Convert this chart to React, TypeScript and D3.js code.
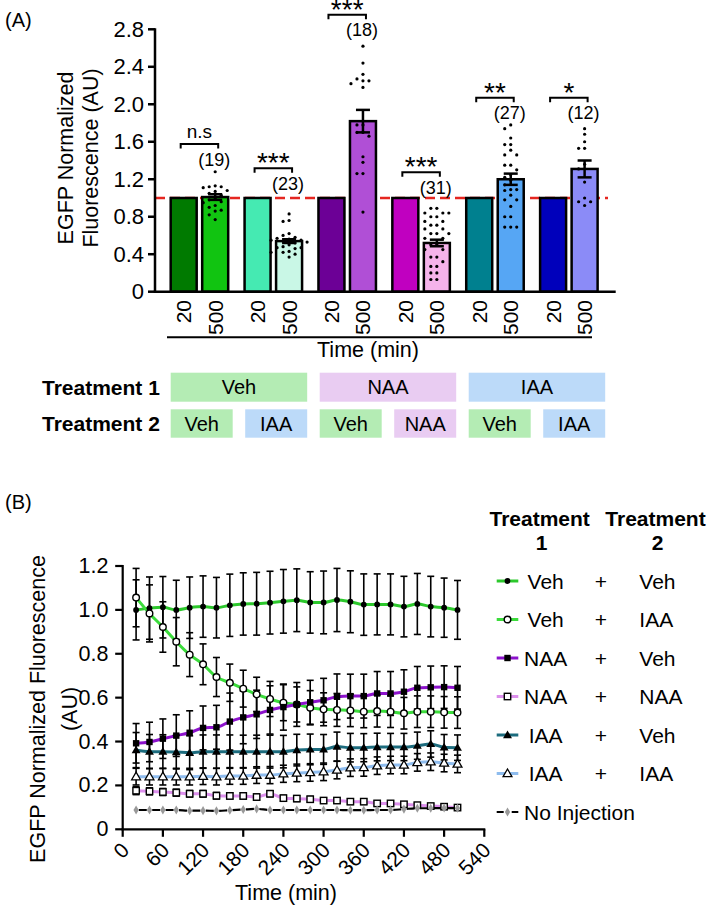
import React from "react";
import * as d3 from "d3";

const W = 710;
const H = 907;
const FONT = "'Liberation Sans', Arial, Helvetica, sans-serif";

// ---------------- Panel A data ----------------
const groupIds = ["VehVeh", "VehIAA", "NAAVeh", "NAANAA", "IAAVeh", "IAAIAA"];
const timeLabelsA = ["20", "500"];
const mean20 = [1, 1, 1, 1, 1, 1];
const mean500 = [1.01, 0.54, 1.82, 0.52, 1.2, 1.31];
const sem500 = [0.03, 0.02, 0.12, 0.035, 0.06, 0.09];
const dotsVehVeh = [1.28, 1.13, 1.12, 1.12, 1.11, 1.08, 1.07, 1.05, 1.03, 1.0, 0.98, 0.96, 0.95, 0.92, 0.9, 0.87, 0.86, 0.82, 0.77];
const dotsVehIAA = [0.83, 0.76, 0.75, 0.62, 0.6, 0.58, 0.57, 0.56, 0.55, 0.55, 0.54, 0.53, 0.52, 0.5, 0.48, 0.47, 0.47, 0.46, 0.43, 0.42, 0.42, 0.4, 0.37];
const dotsNAAVeh = [2.62, 2.44, 2.32, 2.27, 2.25, 2.25, 2.22, 2.18, 1.78, 1.78, 1.7, 1.7, 1.66, 1.44, 1.38, 1.26, 1.26, 0.85];
const dotsNAANAA = [0.89, 0.89, 0.84, 0.84, 0.84, 0.8, 0.8, 0.75, 0.75, 0.71, 0.71, 0.67, 0.67, 0.62, 0.62, 0.62, 0.57, 0.57, 0.5, 0.5, 0.45, 0.45, 0.37, 0.37, 0.32, 0.27, 0.27, 0.2, 0.2, 0.13, 0.13];
const dotsIAAVeh = [1.78, 1.74, 1.64, 1.57, 1.57, 1.51, 1.46, 1.46, 1.35, 1.35, 1.3, 1.25, 1.22, 1.19, 1.14, 1.09, 1.09, 1.08, 1.03, 0.98, 0.98, 0.91, 0.8, 0.8, 0.69, 0.69, 0.69];
const dotsIAAIAA = [1.74, 1.68, 1.6, 1.53, 1.53, 1.36, 1.31, 1.17, 1.0, 0.96, 0.96, 0.92];
const nLabels = ["(19)", "(23)", "(18)", "(31)", "(27)", "(12)"];
const sigLabels = ["n.s", "***", "***", "***", "**", "*"];
const sigLevels = [1.576, 1.317, 2.956, 1.274, 2.07, 2.07];
const yTicksA = [0, 0.4, 0.8, 1.2, 1.6, 2.0, 2.4, 2.8];
const treatment1 = ["Veh", "NAA", "IAA"];
const treatment2 = ["Veh", "IAA", "Veh", "NAA", "Veh", "IAA"];

const dotsA = [dotsVehVeh, dotsVehIAA, dotsNAAVeh, dotsNAANAA, dotsIAAVeh, dotsIAAIAA];
const barColor20 = ["#007a00", "#45eab2", "#6c0096", "#c000c0", "#00808f", "#0000bb"];
const barColor500 = ["#11c411", "#c9f7e6", "#b04fd6", "#f5b3ea", "#56a6f4", "#8b8bf7"];
const tableColor: Record<string, string> = { Veh: "#b4ecb4", NAA: "#e9ccf2", IAA: "#bcdaf9" };

// ---------------- Panel B data ----------------
const timesB = [20, 40, 60, 80, 100, 120, 140, 160, 180, 200, 220, 240, 260, 280, 300, 320, 340, 360, 380, 400, 420, 440, 460, 480, 500];
const xTicksB = [0, 60, 120, 180, 240, 300, 360, 420, 480, 540];
const yTicksB = [0, 0.2, 0.4, 0.6, 0.8, 1.0, 1.2];
const meanVehVeh = [1.0, 1.008, 1.012, 1.0, 1.01, 1.015, 1.01, 1.021, 1.027, 1.028, 1.033, 1.039, 1.044, 1.034, 1.034, 1.045, 1.037, 1.024, 1.025, 1.025, 1.015, 1.027, 1.015, 1.01, 1.0];
const errVehVeh = [0.137, 0.142, 0.14, 0.135, 0.14, 0.14, 0.138, 0.142, 0.142, 0.143, 0.143, 0.145, 0.143, 0.14, 0.143, 0.144, 0.141, 0.14, 0.139, 0.139, 0.138, 0.139, 0.138, 0.135, 0.134];
const meanVehIAA = [1.056, 0.984, 0.922, 0.855, 0.796, 0.752, 0.694, 0.668, 0.641, 0.615, 0.594, 0.577, 0.569, 0.554, 0.547, 0.544, 0.542, 0.536, 0.539, 0.536, 0.529, 0.536, 0.536, 0.533, 0.532];
const errVehIAA = [0.133, 0.13, 0.115, 0.11, 0.1, 0.093, 0.089, 0.085, 0.084, 0.078, 0.08, 0.082, 0.08, 0.078, 0.075, 0.075, 0.074, 0.073, 0.073, 0.072, 0.072, 0.072, 0.072, 0.072, 0.072];
const meanNAAVeh = [0.392, 0.398, 0.413, 0.427, 0.44, 0.462, 0.465, 0.491, 0.51, 0.524, 0.544, 0.557, 0.569, 0.579, 0.588, 0.604, 0.607, 0.607, 0.619, 0.619, 0.627, 0.645, 0.647, 0.648, 0.645];
const errNAAVeh = [0.09, 0.09, 0.09, 0.095, 0.1, 0.1, 0.1, 0.13, 0.12, 0.11, 0.11, 0.105, 0.1, 0.1, 0.1, 0.104, 0.1, 0.1, 0.1, 0.1, 0.1, 0.097, 0.097, 0.097, 0.097];
const meanNAANAA = [0.176, 0.173, 0.17, 0.167, 0.162, 0.162, 0.153, 0.152, 0.152, 0.147, 0.162, 0.142, 0.14, 0.137, 0.131, 0.131, 0.126, 0.126, 0.118, 0.118, 0.114, 0.11, 0.106, 0.103, 0.099];
const errNAANAA = [0.018, 0.016, 0.016, 0.016, 0.015, 0.015, 0.015, 0.014, 0.014, 0.014, 0.014, 0.013, 0.013, 0.013, 0.012, 0.012, 0.012, 0.012, 0.011, 0.011, 0.011, 0.01, 0.01, 0.01, 0.01];
const meanIAAVeh = [0.361, 0.354, 0.354, 0.352, 0.349, 0.354, 0.354, 0.354, 0.354, 0.354, 0.354, 0.354, 0.361, 0.364, 0.364, 0.377, 0.372, 0.372, 0.375, 0.375, 0.375, 0.381, 0.389, 0.374, 0.372];
const errIAAVeh = [0.08, 0.078, 0.077, 0.077, 0.077, 0.076, 0.076, 0.076, 0.075, 0.075, 0.075, 0.074, 0.072, 0.07, 0.068, 0.066, 0.065, 0.064, 0.063, 0.062, 0.062, 0.062, 0.06, 0.058, 0.058];
const meanIAAIAA = [0.24, 0.24, 0.24, 0.24, 0.24, 0.242, 0.24, 0.243, 0.243, 0.247, 0.247, 0.253, 0.257, 0.259, 0.262, 0.27, 0.281, 0.282, 0.29, 0.293, 0.293, 0.305, 0.308, 0.302, 0.298];
const errIAAIAA = [0.038, 0.038, 0.038, 0.038, 0.038, 0.038, 0.038, 0.038, 0.038, 0.038, 0.039, 0.039, 0.04, 0.04, 0.04, 0.04, 0.04, 0.04, 0.04, 0.04, 0.04, 0.04, 0.04, 0.04, 0.04];
const meanNoInj = [0.088, 0.088, 0.088, 0.088, 0.085, 0.085, 0.084, 0.087, 0.09, 0.093, 0.088, 0.088, 0.088, 0.088, 0.088, 0.088, 0.087, 0.087, 0.088, 0.088, 0.092, 0.096, 0.096, 0.097, 0.096];
const legendT1 = ["Veh", "Veh", "NAA", "NAA", "IAA", "IAA", "No Injection"];
const legendT2 = ["Veh", "IAA", "Veh", "NAA", "Veh", "IAA", ""];

type Marker = "dot" | "ring" | "sq" | "osq" | "tri" | "otri" | "dia";
const seriesB = [
  { mean: meanVehVeh, err: errVehVeh, color: "#2cc82c", marker: "dot" as Marker, dash: false },
  { mean: meanVehIAA, err: errVehIAA, color: "#3cdc3c", marker: "ring" as Marker, dash: false },
  { mean: meanNAAVeh, err: errNAAVeh, color: "#8c12cc", marker: "sq" as Marker, dash: false },
  { mean: meanNAANAA, err: errNAANAA, color: "#dc8fec", marker: "osq" as Marker, dash: false },
  { mean: meanIAAVeh, err: errIAAVeh, color: "#1c6c7e", marker: "tri" as Marker, dash: false },
  { mean: meanIAAIAA, err: errIAAIAA, color: "#8ebcee", marker: "otri" as Marker, dash: false },
  { mean: meanNoInj, err: null as number[] | null, color: "#000000", marker: "dia" as Marker, dash: true },
];

// ---------------- scales ----------------
const xGroup = d3.scaleBand<number>().domain(d3.range(groupIds.length)).range([162.5, 605.8]).padding(0);
const xInner = d3.scaleBand<string>().domain(timeLabelsA).range([0, xGroup.bandwidth()]).paddingInner(0.175).paddingOuter(0.26);
const yA = d3.scaleLinear().domain([0, 2.8]).range([291.7, 29.3]);
const xTable = d3.scaleBand<number>().domain(d3.range(groupIds.length)).range([170.7, 605.2]).paddingInner(0.168).paddingOuter(0);

const xB = d3.scaleLinear().domain([0, 540]).range([122.7, 484.3]);
const yB = d3.scaleLinear().domain([0, 1.2]).range([829.3, 566]);

function swarm(values: number[], cx: number, spacing = 6, r = 1.6) {
  const pts = values.map((v) => yA(v)).sort((a, b) => a - b);
  const placed: { x: number; y: number }[] = [];
  for (const py of pts) {
    for (let k = 0; k < 30; k++) {
      const step = Math.ceil(k / 2);
      const off = k === 0 ? 0 : (k % 2 === 1 ? -step : step) * spacing;
      const x = cx + off;
      const ok = placed.every((q) => Math.abs(q.x - x) > spacing - 0.5 || Math.abs(q.y - py) >= 2 * r + 1.5);
      if (ok) {
        placed.push({ x, y: py });
        break;
      }
    }
  }
  return placed;
}

function MarkerShape({ x, y, m }: { x: number; y: number; m: Marker }) {
  switch (m) {
    case "dot":
      return <circle cx={x} cy={y} r={2.9} fill="#000" />;
    case "ring":
      return <circle cx={x} cy={y} r={3.3} fill="#fff" stroke="#000" strokeWidth={1.4} />;
    case "sq":
      return <rect x={x - 3.2} y={y - 3.2} width={6.4} height={6.4} fill="#000" />;
    case "osq":
      return <rect x={x - 3.2} y={y - 3.2} width={6.4} height={6.4} fill="#fff" stroke="#000" strokeWidth={1.4} />;
    case "tri":
      return <path transform={`translate(${x},${y + 0.6})`} d={d3.symbol(d3.symbolTriangle, 34)() || ""} fill="#000" />;
    case "otri":
      return <path transform={`translate(${x},${y + 0.6})`} d={d3.symbol(d3.symbolTriangle, 34)() || ""} fill="#fff" stroke="#000" strokeWidth={1.3} />;
    case "dia":
      return <path transform={`translate(${x},${y})`} d={d3.symbol(d3.symbolDiamond, 24)() || ""} fill="#999" />;
  }
  return null;
}

export default function App() {
  const bw = xInner.bandwidth();
  const barX = (g: number, t: string) => (xGroup(g) as number) + (xInner(t) as number);
  const barC = (g: number, t: string) => barX(g, t) + bw / 2;

  const lineGen = d3
    .line<number>()
    .x((_, i) => xB(timesB[i]))
    .y((d) => yB(d))
    .curve(d3.curveMonotoneX);

  const legendY = (i: number) => 581 + i * 38.5;

  return (
    <svg width={W} height={H} style={{ position: "absolute", left: 0, top: 0, background: "#fff" }} fontFamily={FONT}>
      <rect x={0} y={0} width={W} height={H} fill="#fff" />
      {/* ================= Panel A ================= */}
      <text x={5} y={26.5} fontSize={20}>(A)</text>

      <text transform={`translate(66,158) rotate(-90)`} textAnchor="middle" dominantBaseline="central" fontSize={21.5}>EGFP Normalized</text>
      <text transform={`translate(91,158) rotate(-90)`} textAnchor="middle" dominantBaseline="central" fontSize={21.5}>Fluorescence (AU)</text>

      <line x1={155} x2={608} y1={yA(1)} y2={yA(1)} stroke="#e52620" strokeWidth={2.6} strokeDasharray="10 5" />

      {groupIds.map((_, g) => (
        <g key={`bars${g}`}>
          <rect x={barX(g, "20")} y={yA(mean20[g])} width={bw} height={yA(0) - yA(mean20[g])} fill={barColor20[g]} stroke="#000" strokeWidth={2.5} />
          <rect x={barX(g, "500")} y={yA(mean500[g])} width={bw} height={yA(0) - yA(mean500[g])} fill={barColor500[g]} stroke="#000" strokeWidth={2.5} />
        </g>
      ))}

      {dotsA.map((vals, g) =>
        swarm(vals, barC(g, "500")).map((p, i) => <circle key={`d${g}-${i}`} cx={p.x} cy={p.y} r={1.6} fill="#000" />)
      )}

      {groupIds.map((_, g) => {
        const cx = barC(g, "500");
        const top = yA(mean500[g] + sem500[g]);
        const bot = yA(mean500[g] - sem500[g]);
        return (
          <g key={`eb${g}`} stroke="#000" strokeWidth={2.5}>
            <line x1={cx} x2={cx} y1={top} y2={bot} />
            <line x1={cx - 7} x2={cx + 7} y1={top} y2={top} />
            <line x1={cx - 7} x2={cx + 7} y1={bot} y2={bot} />
          </g>
        );
      })}

      <line x1={155} x2={155} y1={yA(2.8) - 1} y2={yA(0) + 1.2} stroke="#000" strokeWidth={2.5} />
      <line x1={153.8} x2={615.7} y1={yA(0)} y2={yA(0)} stroke="#000" strokeWidth={2.5} />
      {yTicksA.map((t) => (
        <g key={`yta${t}`}>
          <line x1={148} x2={155} y1={yA(t)} y2={yA(t)} stroke="#000" strokeWidth={2.5} />
          <text x={144} y={yA(t)} textAnchor="end" dominantBaseline="central" fontSize={22}>
            {t === 0 ? "0" : d3.format(".1f")(t)}
          </text>
        </g>
      ))}

      {groupIds.map((_, g) =>
        timeLabelsA.map((t) => (
          <text key={`xt${g}${t}`} transform={`translate(${barC(g, t)},300) rotate(-90)`} textAnchor="end" dominantBaseline="central" fontSize={21}>
            {t}
          </text>
        ))
      )}
      <line x1={167} x2={592} y1={337.3} y2={337.3} stroke="#000" strokeWidth={2} />
      <text x={368} y={350} textAnchor="middle" dominantBaseline="central" fontSize={21.5}>Time (min)</text>

      {groupIds.map((_, g) => {
        const x1 = barC(g, "20") - 3;
        const x2 = barC(g, "500") + 3;
        const y = yA(sigLevels[g]);
        const mid = (x1 + x2) / 2;
        const isNs = sigLabels[g] === "n.s";
        return (
          <g key={`sig${g}`}>
            <path d={`M${x1},${y + 4.5}V${y}H${x2}V${y + 4.5}`} fill="none" stroke="#000" strokeWidth={2} />
            {isNs ? (
              <text x={mid} y={y - 6} textAnchor="middle" fontSize={19}>{sigLabels[g]}</text>
            ) : (
              <text x={mid} y={y + 4} textAnchor="middle" fontSize={28}>{sigLabels[g]}</text>
            )}
            <text x={barC(g, "500") - 1} y={y + 15.5} textAnchor="middle" dominantBaseline="central" fontSize={18}>
              {nLabels[g]}
            </text>
          </g>
        );
      })}

      <text x={42} y={387.3} dominantBaseline="central" fontSize={21} fontWeight="bold">Treatment 1</text>
      <text x={42} y={423.5} dominantBaseline="central" fontSize={21} fontWeight="bold">Treatment 2</text>
      {treatment1.map((t, i) => {
        const x0 = xTable(2 * i) as number;
        const x1 = (xTable(2 * i + 1) as number) + xTable.bandwidth();
        return (
          <g key={`t1${i}`}>
            <rect x={x0} y={372.7} width={x1 - x0} height={29} fill={tableColor[t]} />
            <text x={(x0 + x1) / 2} y={387.3} textAnchor="middle" dominantBaseline="central" fontSize={20}>{t}</text>
          </g>
        );
      })}
      {treatment2.map((t, i) => {
        const x0 = xTable(i) as number;
        return (
          <g key={`t2${i}`}>
            <rect x={x0} y={409.3} width={xTable.bandwidth()} height={28.4} fill={tableColor[t]} />
            <text x={x0 + xTable.bandwidth() / 2} y={423.5} textAnchor="middle" dominantBaseline="central" fontSize={20}>{t}</text>
          </g>
        );
      })}

      {/* ================= Panel B ================= */}
      <text x={5} y={509} fontSize={20}>(B)</text>

      <text transform={`translate(38,709) rotate(-90)`} textAnchor="middle" dominantBaseline="central" fontSize={21.5}>EGFP Normalized Fluorescence</text>
      <text transform={`translate(70,709) rotate(-90)`} textAnchor="middle" dominantBaseline="central" fontSize={21.5}>(AU)</text>

      {seriesB.map((s, si) => (
        <path
          key={`ln${si}`}
          d={lineGen(s.mean) || ""}
          fill="none"
          stroke={s.color}
          strokeWidth={s.dash ? 2.2 : 3}
          strokeDasharray={s.dash ? "8 5.4" : undefined}
          strokeDashoffset={s.dash ? 10.7 : undefined}
        />
      ))}
      {seriesB.map((s, si) =>
        s.err
          ? s.mean.map((m, i) => {
              const x = xB(timesB[i]);
              const t = yB(m + (s.err as number[])[i]);
              const b = yB(m - (s.err as number[])[i]);
              return (
                <g key={`e${si}-${i}`} stroke="#000" strokeWidth={1.6}>
                  <line x1={x} x2={x} y1={t} y2={b} />
                  <line x1={x - 3.5} x2={x + 3.5} y1={t} y2={t} />
                  <line x1={x - 3.5} x2={x + 3.5} y1={b} y2={b} />
                </g>
              );
            })
          : null
      )}
      {seriesB.map((s, si) =>
        s.mean.map((m, i) => <MarkerShape key={`m${si}-${i}`} x={xB(timesB[i])} y={yB(m)} m={s.marker} />)
      )}

      <line x1={xB(0)} x2={xB(0)} y1={yB(1.2) - 1} y2={yB(0) + 1} stroke="#000" strokeWidth={2.2} />
      <line x1={xB(0) - 1} x2={xB(540) + 1} y1={yB(0)} y2={yB(0)} stroke="#000" strokeWidth={2.2} />
      {yTicksB.map((t) => (
        <g key={`ytb${t}`}>
          <line x1={xB(0) - 7.5} x2={xB(0)} y1={yB(t)} y2={yB(t)} stroke="#000" strokeWidth={2.2} />
          <text x={108.5} y={yB(t)} textAnchor="end" dominantBaseline="central" fontSize={21.5}>
            {t === 0 ? "0" : d3.format(".1f")(t)}
          </text>
        </g>
      ))}
      {xTicksB.map((t) => (
        <g key={`xtb${t}`}>
          <line x1={xB(t)} x2={xB(t)} y1={yB(0)} y2={yB(0) + 7.5} stroke="#000" strokeWidth={2.2} />
          <text transform={`translate(${xB(t) + 2.5},${yB(0) + 17}) rotate(-45)`} textAnchor="end" dominantBaseline="central" fontSize={21}>
            {t}
          </text>
        </g>
      ))}
      <text x={286} y={893} textAnchor="middle" dominantBaseline="central" fontSize={21.5}>Time (min)</text>

      <text x={539.7} y={518.3} textAnchor="middle" dominantBaseline="central" fontSize={21} fontWeight="bold">Treatment</text>
      <text x={541.5} y={542.3} textAnchor="middle" dominantBaseline="central" fontSize={21} fontWeight="bold">1</text>
      <text x={655.5} y={518.3} textAnchor="middle" dominantBaseline="central" fontSize={21} fontWeight="bold">Treatment</text>
      <text x={657.5} y={542.3} textAnchor="middle" dominantBaseline="central" fontSize={21} fontWeight="bold">2</text>
      {seriesB.map((s, i) => {
        const y = legendY(i);
        const isNoInj = legendT2[i] === "";
        return (
          <g key={`lg${i}`}>
            <line
              x1={496.7}
              x2={518.3}
              y1={y}
              y2={y}
              stroke={s.color}
              strokeWidth={s.dash ? 2.2 : 3}
              strokeDasharray={s.dash ? "7 8" : undefined}
            />
            <MarkerShape x={507.5} y={y} m={s.marker} />
            {isNoInj ? (
              <text x={524} y={y} dominantBaseline="central" fontSize={21}>{legendT1[i]}</text>
            ) : (
              <>
                <text x={545.7} y={y} textAnchor="middle" dominantBaseline="central" fontSize={21}>{legendT1[i]}</text>
                <text x={601} y={y} textAnchor="middle" dominantBaseline="central" fontSize={21}>+</text>
                <text x={639.3} y={y} dominantBaseline="central" fontSize={21}>{legendT2[i]}</text>
              </>
            )}
          </g>
        );
      })}
    </svg>
  );
}
